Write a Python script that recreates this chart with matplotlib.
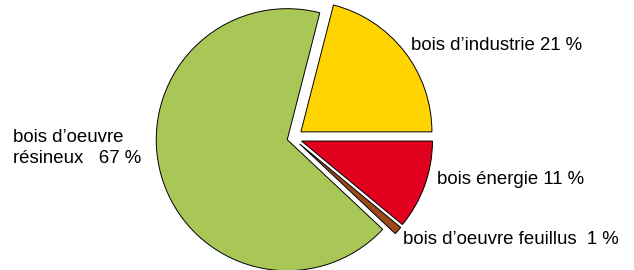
import matplotlib
matplotlib.use('Agg')
import matplotlib.pyplot as plt

# data (counter-clockwise from 3 o'clock)
labels = ["bois d\u2019industrie 21 %", "bois d\u2019oeuvre\nr\u00e9sineux   67 %",
          "bois d\u2019oeuvre feuillus  1 %", "bois \u00e9nergie 11 %"]
shares = [21, 67, 1, 11]
colors = ['#FFD400', '#A8C757', '#9C4A1A', '#E2001F']
explode = [10, 6, 9, 9]   # in pixels (pie explode is in data units)

plt.rcParams['font.family'] = ['Liberation Sans', 'DejaVu Sans']

fig = plt.figure(figsize=(6.34, 2.70), dpi=100)
ax = fig.add_axes([0, 0, 1, 1])

ax.pie(shares, colors=colors, explode=explode, startangle=0, counterclock=True,
       center=(293, 132), radius=131,
       wedgeprops=dict(edgecolor='black', linewidth=0.7))
ax.set_xlim(0, 634)
ax.set_ylim(0, 270)
ax.set_aspect('equal')
ax.axis('off')

# label positions (pixels, y measured upward)
lab_x = [411, 13, 403, 437]
lab_y = [225, 122, 31, 91]
for t, x, y in zip(labels, lab_x, lab_y):
    ax.text(x, y, t, fontsize=13.4, ha='left', va='center', linespacing=1.25)

fig.savefig('out.png', dpi=100)
